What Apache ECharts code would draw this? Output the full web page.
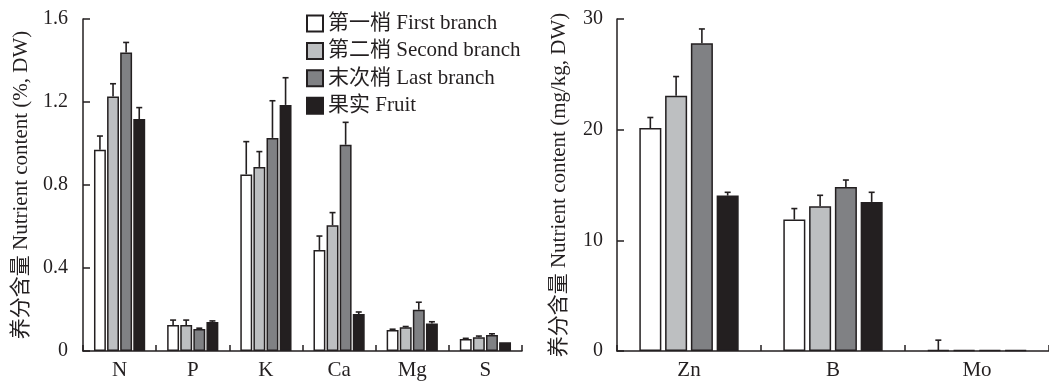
<!DOCTYPE html>
<html><head><meta charset="utf-8">
<script src="https://cdn.jsdelivr.net/npm/echarts@6/dist/echarts.min.js"></script>
<style>html,body{margin:0;padding:0;background:#fff}#c{width:1049px;height:385px}</style>
</head><body><div id="c"></div>
<script>
const seriesNames = ['第一梢 First branch','第二梢 Second branch','末次梢 Last branch','果实 Fruit'];
const seriesColors = ['#ffffff','#bdbfc1','#808184','#231f20'];

const leftCats = ['N','P','K','Ca','Mg','S'];
const leftFirst = [0.970,0.125,0.851,0.487,0.101,0.058];
const leftFirstErr = [0.066,0.024,0.158,0.067,0.004,0.003];
const leftSecond = [1.226,0.125,0.887,0.606,0.114,0.066];
const leftSecondErr = [0.062,0.024,0.074,0.061,0.004,0.006];
const leftLast = [1.439,0.106,1.027,0.994,0.199,0.077];
const leftLastErr = [0.048,0.004,0.179,0.108,0.036,0.006];
const leftFruit = [1.118,0.140,1.186,0.178,0.133,0.042];
const leftFruitErr = [0.055,0.005,0.131,0.010,0.008,0];

const rightCats = ['Zn','B','Mo'];
const rightFirst = [20.14,11.88,0.08];
const rightFirstErr = [0.96,0.99,0.9];
const rightSecond = [23.06,13.08,0.08];
const rightSecondErr = [1.74,0.99,0];
const rightLast = [27.8,14.82,0.08];
const rightLastErr = [1.3,0.63,0];
const rightFruit = [14.04,13.47,0.08];
const rightFruitErr = [0.3,0.87,0];

const leftTitle = '养分含量 Nutrient content (%, DW)';
const rightTitle = '养分含量 Nutrient content (mg/kg, DW)';

const FONT = '"Liberation Serif","Noto Sans CJK SC",serif';
const INK = '#231f20';
const L_CAT_GAP = 0.30, L_BAR_GAP = 0.10;
const R_CAT_GAP = 0.31, R_BAR_GAP = 0.17;

function barSeries(name, k, xi, data, catGap, barGap){
  return {type:'bar', name, xAxisIndex:xi, yAxisIndex:xi, data,
    barCategoryGap:(catGap*100)+'%', barGap:(barGap*100)+'%',
    itemStyle:{color:seriesColors[k], borderColor:INK, borderWidth:1.5},
    silent:true, animation:false};
}
function errSeries(name, k, xi, vals, errs, catGap, barGap){
  return {type:'custom', name, xAxisIndex:xi, yAxisIndex:xi, silent:true, z:5, animation:false,
    data: vals.map((v,i)=>[i, v, errs[i]]),
    encode:{x:0,y:1},
    renderItem(params, api){
      const i = api.value(0), v = api.value(1), e = api.value(2);
      if(!e) return null;
      const band = api.size([1,0])[0];
      const gw = band*(1-catGap);
      const bw = gw/(4+3*barGap);
      const c0 = api.coord([i, v]);
      const x = c0[0] - gw/2 + k*bw*(1+barGap) + bw/2;
      const y0 = c0[1], y1 = api.coord([i, v+e])[1];
      const cap = 3;
      return {type:'group', children:[
        {type:'line', shape:{x1:x,y1:y0,x2:x,y2:y1}, style:{stroke:INK, lineWidth:1.6}},
        {type:'line', shape:{x1:x-cap,y1:y1,x2:x+cap,y2:y1}, style:{stroke:INK, lineWidth:1.6}}
      ]};
    }};
}

const axisLine = {show:true, lineStyle:{color:INK, width:1.5}};
function xAxis(gi, cats){
  return {type:'category', gridIndex:gi, data:cats, boundaryGap:true,
    axisLine, axisTick:{show:true, inside:true, length:6, lineStyle:{color:INK, width:1.5}},
    axisLabel:{color:INK, fontFamily:FONT, fontSize:21, margin:9}, splitLine:{show:false}};
}
function yAxis(gi, max, interval, title, gap, margin, fmt){
  return {type:'value', gridIndex:gi, min:0, max, interval,
    name:title, nameLocation:'middle', nameRotate:90, nameGap:gap,
    nameTextStyle:{color:INK, fontFamily:FONT, fontSize:21},
    axisLine, axisTick:{show:true, inside:true, length:7, lineStyle:{color:INK, width:1.5}},
    axisLabel:{color:INK, fontFamily:FONT, fontSize:20, margin, formatter:fmt},
    splitLine:{show:false}};
}

const leftVals = [leftFirst,leftSecond,leftLast,leftFruit];
const leftErrs = [leftFirstErr,leftSecondErr,leftLastErr,leftFruitErr];
const rightVals = [rightFirst,rightSecond,rightLast,rightFruit];
const rightErrs = [rightFirstErr,rightSecondErr,rightLastErr,rightFruitErr];

const series = [];
seriesNames.forEach((n,k)=>series.push(barSeries(n,k,0,leftVals[k],L_CAT_GAP,L_BAR_GAP)));
seriesNames.forEach((n,k)=>series.push(barSeries(n,k,1,rightVals[k],R_CAT_GAP,R_BAR_GAP)));
seriesNames.forEach((n,k)=>series.push(errSeries(n,k,0,leftVals[k],leftErrs[k],L_CAT_GAP,L_BAR_GAP)));
seriesNames.forEach((n,k)=>series.push(errSeries(n,k,1,rightVals[k],rightErrs[k],R_CAT_GAP,R_BAR_GAP)));

const chart = echarts.init(document.getElementById('c'), null, {renderer:'canvas'});
chart.setOption({
  animation:false,
  backgroundColor:'#fff',
  grid:[
    {left:83, right:527, top:19, bottom:34},
    {left:617, right:-7, top:19, bottom:34}
  ],
  legend:{data:seriesNames, orient:'vertical', left:301, top:8, icon:'rect',
    itemWidth:16, itemHeight:16, itemGap:6.4,
    textStyle:{color:INK, fontFamily:FONT, fontSize:21, lineHeight:16, padding:[0,0,0,0]},
    selectedMode:false},
  xAxis:[xAxis(0,leftCats), xAxis(1,rightCats)],
  yAxis:[
    yAxis(0,1.6,0.4,leftTitle,51,15,v=>v===0?'0':v.toFixed(1)),
    yAxis(1,30,10,rightTitle,47,14,v=>String(v))
  ],
  series
});
</script></body></html>
